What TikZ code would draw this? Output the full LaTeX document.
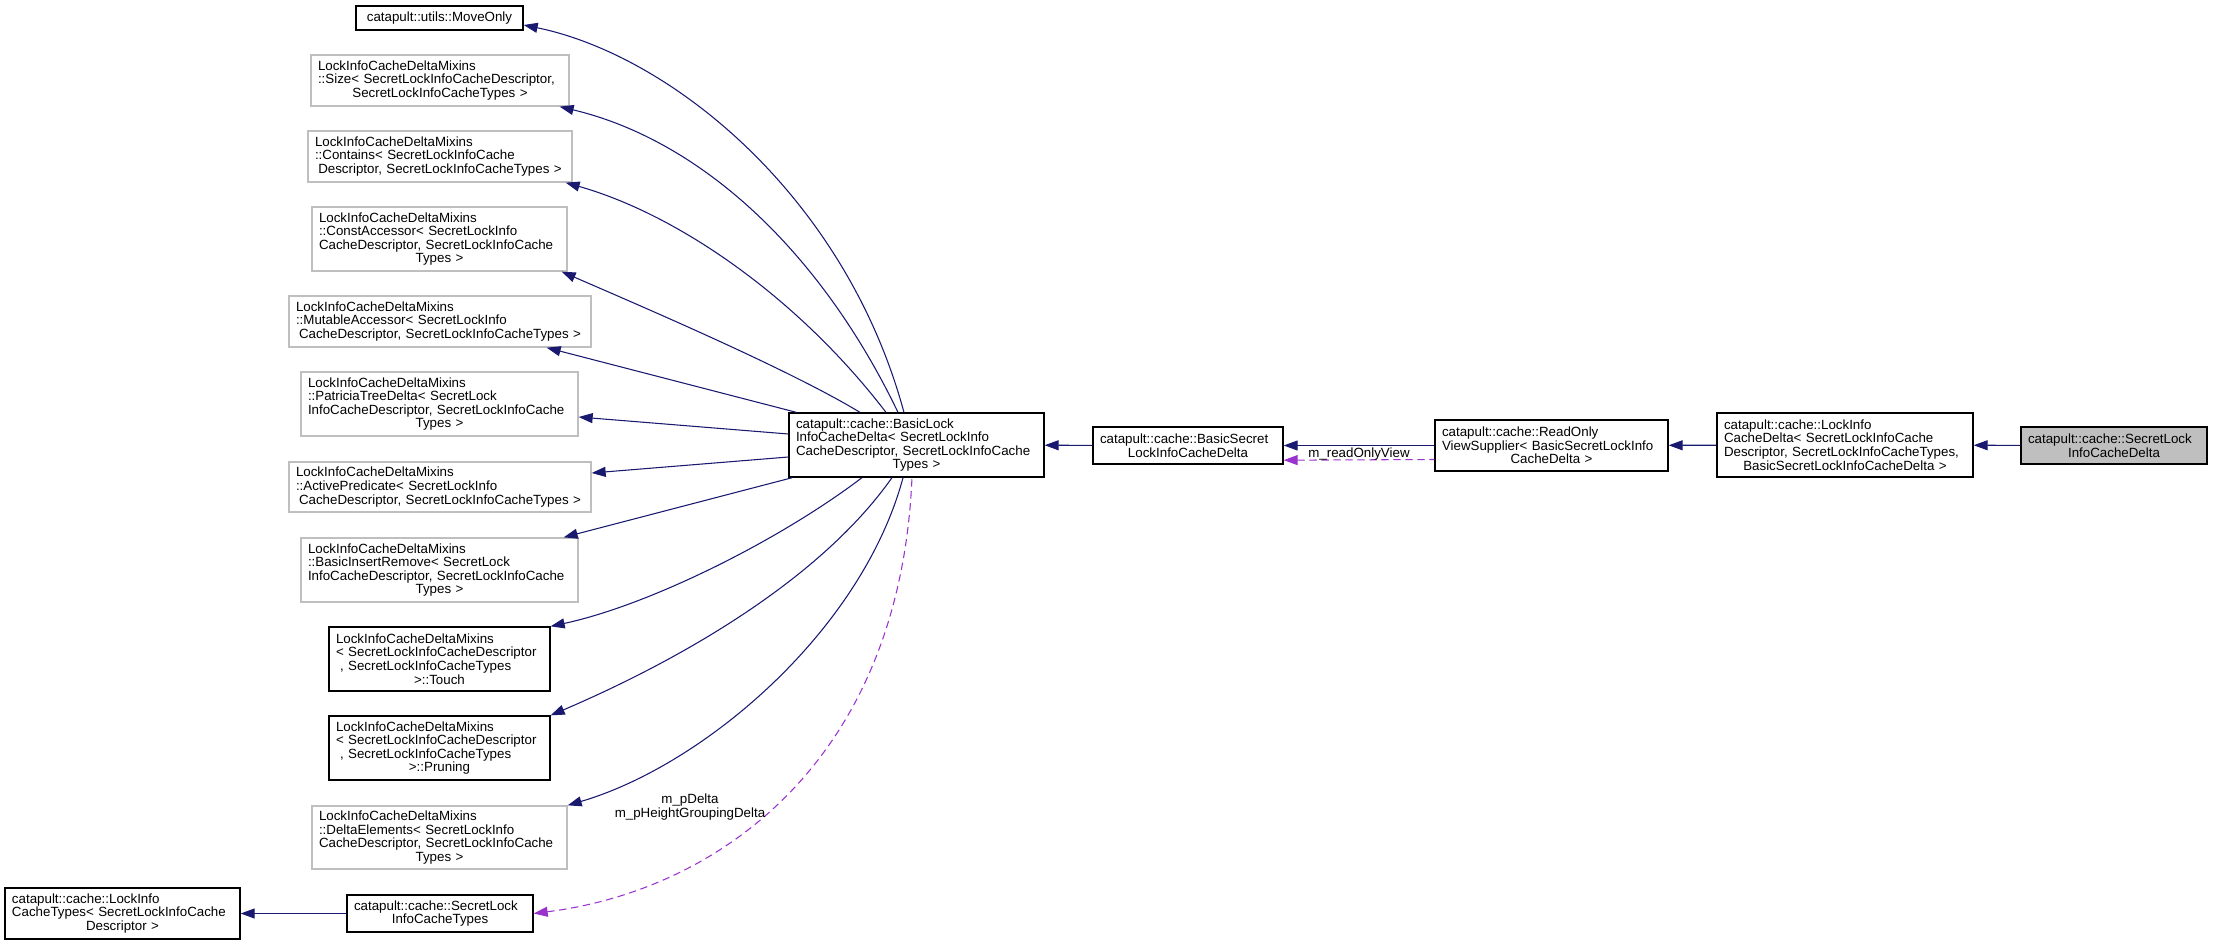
\documentclass[tikz,border=0pt]{standalone}
\usepackage{fontspec}
\setmainfont{Liberation Sans}
\usetikzlibrary{arrows.meta}
\definecolor{edgeblue}{HTML}{191970}
\definecolor{usepurple}{HTML}{9A32CD}
\definecolor{grey75}{HTML}{BFBFBF}
\newcommand{\lastln}[1]{\hbox to\hsize{\hfil#1\hfil}}

\begin{document}
\begin{tikzpicture}[x=.75pt,y=-.75pt,
    cls/.style={draw=black,line width=1pt,rectangle,inner xsep=5.25pt,inner ysep=2pt,align=left,font=\fontsize{10}{10.2}\selectfont},
    undoc/.style={cls,draw=grey75},
    self/.style={cls,fill=grey75},
    boxwh/.code 2 args={\pgfmathsetlengthmacro\tw{(#1-14)*0.75pt}\tikzset{text width=\tw,minimum height=#2*0.75pt}},
    inh/.style={draw=edgeblue,line width=.8pt,{Triangle[length=10.5pt,width=7.5pt]}-},
    use/.style={draw=usepurple,line width=.8pt,dash pattern=on 5.5pt off 3.5pt,{Triangle[length=10.5pt,width=7.5pt]}-},
    lbl/.style={font=\fontsize{10}{10.2}\selectfont,align=center,inner sep=1pt}]
  \useasboundingbox (0,0) rectangle (2213,945);
  % base classes (left column)
  \node[cls,boxwh={167}{24}] (mo) at (439.5,18) {\lastln{catapult::utils::MoveOnly}};
  \node[undoc,boxwh={258}{51}] (sz) at (440,80.5) {LockInfoCacheDeltaMixins\\::Size< SecretLockInfoCacheDescriptor,\\\lastln{SecretLockInfoCacheTypes >}};
  \node[undoc,boxwh={264}{51}] (ct) at (440,156.5) {LockInfoCacheDeltaMixins\\::Contains< SecretLockInfoCache\\\lastln{Descriptor, SecretLockInfoCacheTypes >}};
  \node[undoc,boxwh={255}{64}] (ca) at (439.5,239) {LockInfoCacheDeltaMixins\\::ConstAccessor< SecretLockInfo\\CacheDescriptor, SecretLockInfoCache\\\lastln{Types >}};
  \node[undoc,boxwh={302}{51}] (ma) at (440,321.5) {LockInfoCacheDeltaMixins\\::MutableAccessor< SecretLockInfo\\\lastln{CacheDescriptor, SecretLockInfoCacheTypes >}};
  \node[undoc,boxwh={277}{64}] (pt) at (439.5,404) {LockInfoCacheDeltaMixins\\::PatriciaTreeDelta< SecretLock\\InfoCacheDescriptor, SecretLockInfoCache\\\lastln{Types >}};
  \node[undoc,boxwh={302}{50}] (ap) at (440,487) {LockInfoCacheDeltaMixins\\::ActivePredicate< SecretLockInfo\\\lastln{CacheDescriptor, SecretLockInfoCacheTypes >}};
  \node[undoc,boxwh={277}{64}] (bir) at (439.5,570) {LockInfoCacheDeltaMixins\\::BasicInsertRemove< SecretLock\\InfoCacheDescriptor, SecretLockInfoCache\\\lastln{Types >}};
  \node[cls,boxwh={221}{64}] (tc) at (439.5,659) {LockInfoCacheDeltaMixins\\< SecretLockInfoCacheDescriptor\\\hspace*{3pt}, SecretLockInfoCacheTypes\\\lastln{>::Touch}};
  \node[cls,boxwh={221}{64}] (pr) at (439.5,748) {LockInfoCacheDeltaMixins\\< SecretLockInfoCacheDescriptor\\\hspace*{3pt}, SecretLockInfoCacheTypes\\\lastln{>::Pruning}};
  \node[undoc,boxwh={255}{63}] (de) at (439.5,837.5) {LockInfoCacheDeltaMixins\\::DeltaElements< SecretLockInfo\\CacheDescriptor, SecretLockInfoCache\\\lastln{Types >}};
  \node[cls,boxwh={235}{51}] (lct) at (122.5,913.5) {catapult::cache::LockInfo\\CacheTypes< SecretLockInfoCache\\\lastln{Descriptor >}};
  \node[cls,boxwh={186}{37}] (slct) at (440,913.5) {catapult::cache::SecretLock\\\lastln{InfoCacheTypes}};
  % derived chain
  \node[cls,boxwh={255}{64}] (bld) at (916.5,445) {catapult::cache::BasicLock\\InfoCacheDelta< SecretLockInfo\\CacheDescriptor, SecretLockInfoCache\\\lastln{Types >}};
  \node[cls,boxwh={190}{37}] (bsd) at (1188,445.5) {catapult::cache::BasicSecret\\\lastln{LockInfoCacheDelta}};
  \node[cls,boxwh={233}{51}] (ros) at (1551.5,445.5) {catapult::cache::ReadOnly\\ViewSupplier< BasicSecretLockInfo\\\lastln{CacheDelta >}};
  \node[cls,boxwh={256}{64}] (lcd) at (1845,445) {catapult::cache::LockInfo\\CacheDelta< SecretLockInfoCache\\Descriptor, SecretLockInfoCacheTypes,\\\lastln{BasicSecretLockInfoCacheDelta >}};
  \node[self,boxwh={186}{37}] (slcd) at (2114,445.5) {catapult::cache::SecretLock\\\lastln{InfoCacheDelta}};

  \draw[inh] (lcd) -- (slcd);
  \draw[inh] (ros) -- (lcd);
  \draw[inh] (bsd) -- (ros);
  \draw[use] ([yshift=-11pt]bsd.east) -- node[lbl,midway,above=-1.5pt] (rov) {m\_readOnlyView} ([yshift=-10.5pt]ros.west);
  \draw[inh] (bld) -- (bsd);
  \draw[inh] (lct) -- (slct);

  \draw[inh] ([yshift=-5.25pt]mo.east) .. controls (670,55) and (845,195) .. ([xshift=-9.4pt]bld.north);
  \draw[inh] ([xshift=-7.5pt]sz.south east) .. controls (700,140) and (820,250) .. ([xshift=-13.9pt]bld.north);
  \draw[inh] ([xshift=-5.25pt]ct.south east) .. controls (680,215) and (800,300) .. ([xshift=-22.9pt]bld.north);
  \draw[inh] ([xshift=-4.5pt]ca.south east) .. controls (650,310) and (790,370) .. ([xshift=-42.4pt]bld.north);
  \draw[inh] ([xshift=-33.75pt]ma.south east) -- ([xshift=6pt]bld.north west);
  \draw[inh] ([yshift=-9.75pt]pt.east) -- ([yshift=8.25pt]bld.west);
  \draw[inh] ([yshift=10.5pt]ap.east) -- ([yshift=-9pt]bld.west);
  \draw[inh] ([xshift=-11.25pt]bir.north east) -- ([xshift=3pt]bld.south west);
  \draw[inh] (tc.north east) .. controls (650,605) and (780,540) .. ([xshift=-40.9pt]bld.south);
  \draw[inh] (pr.north east) .. controls (680,660) and (820,580) .. ([xshift=-18.4pt]bld.south);
  \draw[inh] (de.north east) .. controls (705,765) and (862,630) .. ([xshift=-10.1pt]bld.south);
  \draw[use] (slct.east) .. controls (720,890) and (900,760) .. ([xshift=-3.4pt]bld.south);
  \node[lbl] (pdl) at (690,807) {m\_pDelta\\m\_pHeightGroupingDelta};
\end{tikzpicture}
\end{document}
